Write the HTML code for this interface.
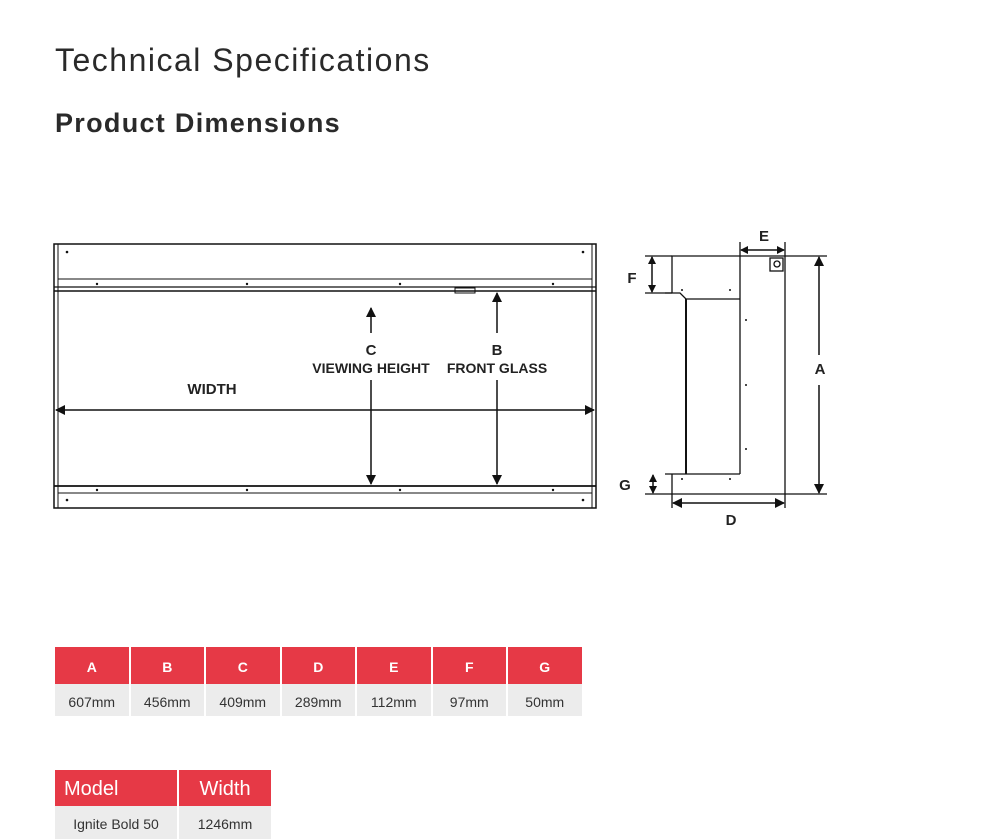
<!DOCTYPE html>
<html><head><style>
body{margin:0;width:984px;height:839px;background:#fff;font-family:"Liberation Sans",sans-serif;position:relative;overflow:hidden;color:#222}
.t{position:absolute;white-space:nowrap}
table{position:absolute;border-collapse:separate;border-spacing:2px 0}
td{text-align:center;padding:3px 0 0 0}
.h{background:#e63946;color:#fff;font-weight:bold}
.d{background:#ececec;color:#333}
</style></head><body>
<div class="t" style="left:55px;top:42px;font-size:32px;color:#2a2a2a;letter-spacing:1.5px">Technical Specifications</div>
<div class="t" style="left:55px;top:108px;font-size:27px;font-weight:bold;color:#2a2a2a;letter-spacing:1.3px">Product Dimensions</div>

<svg width="984" height="839" style="position:absolute;left:0;top:0" font-family="Liberation Sans, sans-serif">
<defs><marker id="a" markerWidth="10" markerHeight="10" refX="9" refY="5" orient="auto-start-reverse" markerUnits="userSpaceOnUse"><path d="M0,0L10,5L0,10z" fill="#111"/></marker>
<marker id="s" markerWidth="8" markerHeight="8" refX="7" refY="4" orient="auto-start-reverse" markerUnits="userSpaceOnUse"><path d="M0,0L8,4L0,8z" fill="#111"/></marker></defs>
<g stroke="#111" fill="none" stroke-width="1.5">
<rect x="54" y="244" width="542" height="264"/>
<line x1="58" y1="244" x2="58" y2="508" stroke-width="1"/>
<line x1="592" y1="244" x2="592" y2="508" stroke-width="1"/>
<line x1="58" y1="279" x2="592" y2="279" stroke-width="1"/>
<line x1="54" y1="287" x2="596" y2="287" stroke-width="1.2"/>
<line x1="54" y1="291" x2="596" y2="291" stroke-width="1.5"/>
<rect x="455" y="288" width="20" height="5" stroke-width="1"/>
<line x1="54" y1="486" x2="596" y2="486" stroke-width="1.8"/>
<line x1="58" y1="493" x2="592" y2="493" stroke-width="1"/>
</g>
<g fill="#111">
<circle cx="67" cy="252" r="1.3"/><circle cx="583" cy="252" r="1.3"/>
<circle cx="97" cy="284" r="1.2"/><circle cx="247" cy="284" r="1.2"/><circle cx="400" cy="284" r="1.2"/><circle cx="553" cy="284" r="1.2"/>
<circle cx="97" cy="490" r="1.2"/><circle cx="247" cy="490" r="1.2"/><circle cx="400" cy="490" r="1.2"/><circle cx="553" cy="490" r="1.2"/>
<circle cx="67" cy="500" r="1.3"/><circle cx="583" cy="500" r="1.3"/>
</g>
<g stroke="#111" stroke-width="1.5">
<line x1="56" y1="410" x2="594" y2="410" marker-start="url(#a)" marker-end="url(#a)"/>
<line x1="371" y1="333" x2="371" y2="308" marker-end="url(#a)"/>
<line x1="371" y1="380" x2="371" y2="484" marker-end="url(#a)"/>
<line x1="497" y1="333" x2="497" y2="293" marker-end="url(#a)"/>
<line x1="497" y1="380" x2="497" y2="484" marker-end="url(#a)"/>
</g>
<g font-weight="bold" font-size="14" fill="#222" text-anchor="middle">
<text x="212" y="394" font-size="15">WIDTH</text>
<text x="371" y="355" font-size="15">C</text>
<text x="371" y="373">VIEWING HEIGHT</text>
<text x="497" y="355" font-size="15">B</text>
<text x="497" y="373">FRONT GLASS</text>
<text x="632" y="283" font-size="15">F</text>
<text x="625" y="490" font-size="15">G</text>
<text x="731" y="525" font-size="15">D</text>
<text x="764" y="241" font-size="15">E</text>
<text x="820" y="374" font-size="15">A</text>
</g>
<g stroke="#111" fill="none" stroke-width="1.3">
<path d="M672,293V256H785V494H672V474"/>
<line x1="740" y1="256" x2="740" y2="474"/>
<path d="M665,293H680L686,299H740"/>
<line x1="686" y1="299" x2="686" y2="474" stroke-width="2"/>
<line x1="665" y1="474" x2="740" y2="474"/>
<rect x="770" y="258" width="13" height="13"/>
<circle cx="777" cy="264" r="3"/>
<line x1="645" y1="256" x2="672" y2="256"/>
<line x1="645" y1="293" x2="672" y2="293"/>
<line x1="645" y1="494" x2="672" y2="494"/>
<line x1="785" y1="256" x2="827" y2="256"/>
<line x1="785" y1="494" x2="827" y2="494"/>
<line x1="740" y1="242" x2="740" y2="256"/>
<line x1="785" y1="242" x2="785" y2="256"/>
<line x1="672" y1="494" x2="672" y2="508"/>
<line x1="785" y1="494" x2="785" y2="508"/>
</g>
<g stroke="#111" stroke-width="1.5">
<line x1="652" y1="257" x2="652" y2="292" marker-start="url(#s)" marker-end="url(#s)"/>
<line x1="653" y1="475" x2="653" y2="493" marker-start="url(#s)" marker-end="url(#s)"/>
<line x1="673" y1="503" x2="784" y2="503" marker-start="url(#a)" marker-end="url(#a)"/>
<line x1="741" y1="250" x2="784" y2="250" marker-start="url(#s)" marker-end="url(#s)"/>
<line x1="819" y1="257" x2="819" y2="355" marker-start="url(#a)"/>
<line x1="819" y1="385" x2="819" y2="493" marker-end="url(#a)"/>
</g>
<g fill="#111"><circle cx="682" cy="290" r="1"/><circle cx="730" cy="290" r="1"/><circle cx="746" cy="320" r="1"/><circle cx="746" cy="385" r="1"/><circle cx="746" cy="449" r="1"/><circle cx="682" cy="479" r="1"/><circle cx="730" cy="479" r="1"/></g>
</svg>

<table style="left:53px;top:647px">
<tr style="height:37px;font-size:14px"><td class="h" style="width:73.5px">A</td><td class="h" style="width:73.5px">B</td><td class="h" style="width:73.5px">C</td><td class="h" style="width:73.5px">D</td><td class="h" style="width:73.5px">E</td><td class="h" style="width:73.5px">F</td><td class="h" style="width:73.5px">G</td></tr>
<tr style="height:32px;font-size:14px"><td class="d">607mm</td><td class="d">456mm</td><td class="d">409mm</td><td class="d">289mm</td><td class="d">112mm</td><td class="d">97mm</td><td class="d">50mm</td></tr>
</table>
<table style="left:53px;top:770px">
<tr style="height:36px;font-size:20px"><td class="h" style="width:122px;text-align:left;padding-left:9px;font-weight:normal;box-sizing:border-box">Model</td><td class="h" style="width:92px;font-weight:normal">Width</td></tr>
<tr style="height:33px;font-size:14px"><td class="d">Ignite Bold 50</td><td class="d">1246mm</td></tr>
</table>
</body></html>
